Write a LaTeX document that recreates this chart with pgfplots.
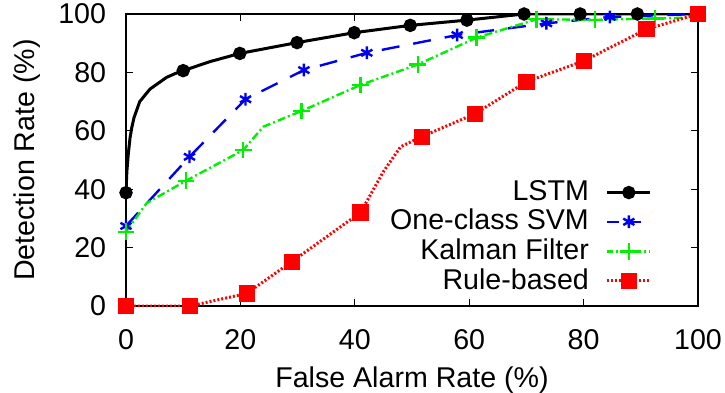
\documentclass[border=0pt]{standalone}
\usepackage{fontspec}
\setmainfont{Liberation Sans}
\usepackage{pgfplots}
\pgfplotsset{compat=1.18}
\definecolor{gpred}{RGB}{255,0,0}
\definecolor{gpgreen}{RGB}{0,240,0}
\definecolor{gpblue}{RGB}{0,0,240}
\begin{document}
\fontsize{14.3bp}{17bp}\selectfont
\begin{tikzpicture}
\begin{axis}[
  name=ax,
  scale only axis,
  width=286bp, height=146bp,
  xmin=0, xmax=100, ymin=0, ymax=100,
  xtick={0,20,40,60,80,100},
  ytick={0,20,40,60,80,100},
  tick align=inside,
  major tick length=3.5bp,
  axis line style={line width=0.6bp},
  every tick/.style={black, line width=0.5bp},
  /pgf/number format/assume math mode=true,
  tick label style={font=\fontsize{14.3bp}{17bp}\selectfont},
  label style={font=\fontsize{14.3bp}{17bp}\selectfont},
  xlabel={False Alarm Rate (\%)},
  ylabel={Detection Rate (\%)},
  xlabel style={at={([yshift=-40.5bp]axis description cs:0.5,0)}, anchor=base},
  ylabel style={at={([xshift=-45.5bp]axis description cs:0,0.5)}, anchor=base, rotate=0},
  xticklabel style={yshift=-7bp},
  yticklabel style={xshift=-5bp},
  legend plot pos=right,
  legend cell align=right,
  legend style={draw=none, fill=none, at={(0.92,0.028)}, anchor=south east,
    font=\fontsize{14.3bp}{17bp}\selectfont, row sep=-1.7bp, column sep=6.5bp, inner sep=0pt},
  legend image code/.code={\draw[mark repeat=2, mark phase=2, #1] plot coordinates {(0bp,0bp) (10.75bp,0bp) (21.5bp,0bp)};},
]
\addlegendimage{black, line width=1.5bp, mark=*, mark size=2.6bp, mark options={solid, fill=black}}
\addlegendentry{LSTM}
\addlegendimage{gpblue, line width=1.2bp, dash pattern=on 6bp off 5bp, mark=asterisk, mark size=3.2bp, mark options={solid, line width=1.2bp}}
\addlegendentry{One-class SVM}
\addlegendimage{gpgreen, line width=1.2bp, dash pattern=on 3bp off 1.5bp on 1bp off 1.5bp, mark=+, mark size=4.2bp, mark options={solid, line width=1.2bp}}
\addlegendentry{Kalman Filter}
\addlegendimage{gpred, line width=1.5bp, dash pattern=on 1bp off 1bp, mark=square*, mark size=3.3bp, mark options={solid, fill=gpred}}
\addlegendentry{Rule-based}
\addplot[forget plot, black, line width=1.5bp, mark=*, mark size=2.6bp, mark options={solid, fill=black},
  mark indices={1,11,13,14,15,16,17,18,19,20,21}] coordinates {
  (0,38.8) (0.15,46) (0.4,52) (0.7,57.5) (1,61) (1.4,64.5) (2.4,70) (4.2,74.3) (7.1,78.3) (8.6,79.6)
  (10,80.6) (14.7,83.7) (19.9,86.5) (29.9,90.2) (39.9,93.6) (49.7,96.1) (59.6,97.9)
  (69.6,100) (79.4,100) (89.4,100) (100,100)};
\addplot[forget plot, gpblue, line width=1.2bp, dash pattern=on 9bp off 7bp, mark=asterisk, mark size=3.2bp,
  mark options={solid, line width=1.2bp}] coordinates {
  (0,27.4) (11.1,51.1) (20.9,70.8) (31.1,80.8) (42.1,86.7) (57.9,92.8) (73.5,96.8) (84.6,99) (100,100)};
\addplot[forget plot, gpgreen, line width=1.2bp, dash pattern=on 4bp off 1.5bp on 1bp off 1.5bp, mark=+, mark size=4.2bp,
  mark options={solid, line width=1.2bp},
  mark indices={1,3,4,6,7,8,9,10,11,12}] coordinates {
  (0,25.4) (3.6,35.2) (10.5,42.9) (20.5,53.4) (24,61.4) (30.7,66.8) (41,75.7) (51,82.7)
  (61.3,91.9) (71.8,98.2) (82,98) (92.5,98.5) (100,98.8)};
\addplot[forget plot, gpred, line width=1.5bp, dash pattern=on 1bp off 1bp, mark=square*, mark size=3.3bp,
  mark options={solid, fill=gpred},
  mark indices={1,2,3,4,5,8,9,10,11,12,13}] coordinates {
  (0,0) (11.2,0) (21.1,4.3) (29,15.2) (41,32) (45,46) (48,54.5) (51.7,58) (61,65.8)
  (70,76.8) (80,83.9) (91,94.8) (100,100)};
\end{axis}
\pgfresetboundingbox
\path ([shift={(-63bp,-43.5bp)}]ax.south west) rectangle ([shift={(13.5bp,7bp)}]ax.north east);
\end{tikzpicture}
\end{document}
